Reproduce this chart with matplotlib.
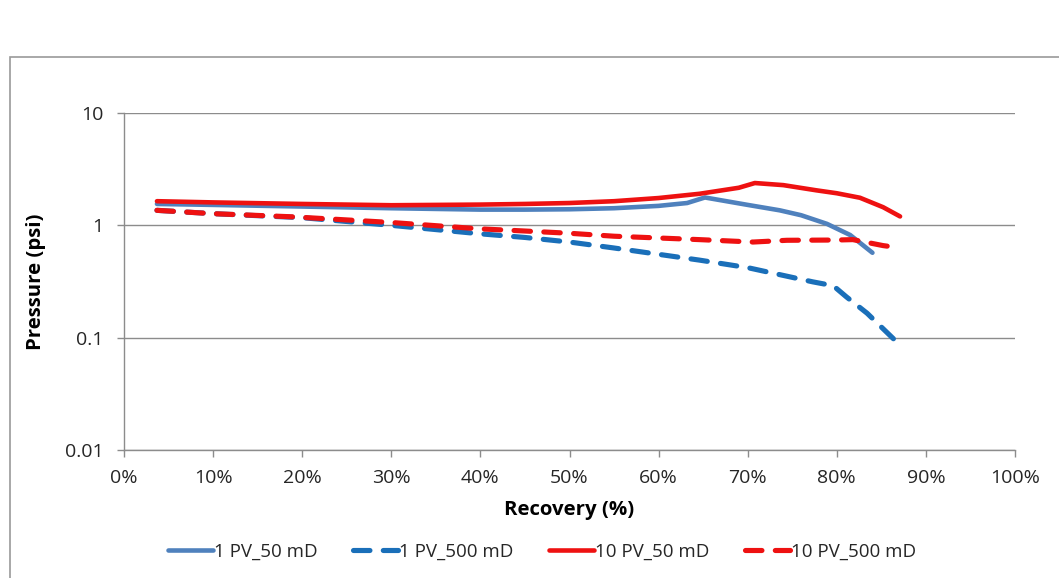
#!/usr/bin/env python3
"""Pressure vs. recovery for the four injection / permeability cases."""

import matplotlib
matplotlib.use("Agg")
import matplotlib.pyplot as plt
from matplotlib.patches import Rectangle
from matplotlib.ticker import FixedLocator, FuncFormatter, NullLocator

plt.rcParams["font.family"] = ["Open Sans", "DejaVu Sans"]

# Recovery fraction / pressure (psi) for each case
rec_1pv_50 = [0.037, 0.10, 0.20, 0.30, 0.40, 0.45, 0.50, 0.55, 0.60, 0.632, 0.652,
              0.70, 0.736, 0.76, 0.789, 0.815, 0.84]
p_1pv_50 = [1.55, 1.52, 1.47, 1.42, 1.38, 1.38, 1.39, 1.42, 1.49, 1.58, 1.77,
            1.52, 1.36, 1.23, 1.03, 0.82, 0.57]

rec_1pv_500 = [0.037, 0.10, 0.20, 0.30, 0.40, 0.45, 0.50, 0.549, 0.646, 0.70,
               0.773, 0.796, 0.811, 0.834, 0.867]
p_1pv_500 = [1.36, 1.27, 1.17, 1.00, 0.84, 0.78, 0.71, 0.63, 0.49, 0.42,
             0.314, 0.29, 0.23, 0.165, 0.092]

rec_10pv_50 = [0.037, 0.10, 0.20, 0.30, 0.40, 0.45, 0.50, 0.55, 0.60, 0.646, 0.69,
               0.708, 0.74, 0.777, 0.80, 0.826, 0.852, 0.871]
p_10pv_50 = [1.64, 1.60, 1.55, 1.51, 1.53, 1.55, 1.58, 1.64, 1.75, 1.91, 2.16,
             2.38, 2.28, 2.05, 1.93, 1.76, 1.45, 1.2]

rec_10pv_500 = [0.037, 0.10, 0.19, 0.30, 0.40, 0.45, 0.50, 0.55, 0.646, 0.706,
                0.744, 0.80, 0.818, 0.852, 0.871]
p_10pv_500 = [1.36, 1.27, 1.19, 1.06, 0.93, 0.89, 0.85, 0.80, 0.746, 0.71,
              0.736, 0.74, 0.746, 0.66, 0.63]

x_ticks = [i / 10 for i in range(11)]
y_ticks = [0.01, 0.1, 1, 10]
y_tick_labels = ["0.01", "0.1", "1", "10"]

GRID = "#8c8c8c"
TEXT = "#262626"

fig = plt.figure(figsize=(10.59, 5.78), dpi=100)

# chart frame
fig.patches.append(Rectangle((10 / 1059, -0.2), 1.2, 1.2 - 57 / 578,
                             transform=fig.transFigure, fill=False,
                             edgecolor="#9a9a9a", linewidth=1.2))

ax = fig.add_axes([124 / 1059, 1 - 450 / 578, 891 / 1059, 337 / 578])

dash = (3.2, 2.6)
ax.plot(rec_1pv_50, p_1pv_50, color="#4F81BD", lw=3.3, label="1 PV_50 mD",
        solid_capstyle="round", zorder=3)
ax.plot(rec_1pv_500, p_1pv_500, color="#1A6FB9", lw=3.7, dashes=dash,
        dash_capstyle="round", label="1 PV_500 mD", zorder=3)
ax.plot(rec_10pv_50, p_10pv_50, color="#EE1111", lw=3.3, label="10 PV_50 mD",
        solid_capstyle="round", zorder=4)
ax.plot(rec_10pv_500, p_10pv_500, color="#EE1111", lw=3.7, dashes=dash,
        dash_capstyle="round", label="10 PV_500 mD", zorder=4)

ax.set_yscale("log")
ax.set_xlim(0, 1)
ax.set_ylim(0.01, 10)
ax.xaxis.set_major_locator(FixedLocator(x_ticks))
ax.xaxis.set_major_formatter(FuncFormatter(lambda v, _: f"{v * 100:.0f}%"))
ax.yaxis.set_major_locator(FixedLocator(y_ticks))
ax.yaxis.set_minor_locator(NullLocator())
ax.set_yticklabels(y_tick_labels)

ax.grid(axis="y", color=GRID, linewidth=1.0)
for side in ("top", "right"):
    ax.spines[side].set_visible(False)
for side in ("left", "bottom"):
    ax.spines[side].set_color(GRID)
    ax.spines[side].set_linewidth(1.0)
ax.tick_params(axis="both", colors=GRID, length=5, width=1.0,
               labelcolor=TEXT, labelsize=14)
ax.tick_params(axis="y", pad=10)
ax.tick_params(axis="x", pad=9)

ax.set_xlabel("Recovery (%)", fontsize=14.7, fontweight="bold", labelpad=9,
              color="black")
ax.set_ylabel("Pressure (psi)", fontsize=14.7, fontweight="bold", labelpad=13,
              color="black")

leg = fig.legend(loc="center", bbox_to_anchor=(0.512, 0.046), ncol=4,
                 frameon=False, fontsize=13.5, handlelength=2.4,
                 handletextpad=0.05, columnspacing=1.9)
for t in leg.get_texts():
    t.set_color(TEXT)

fig.savefig("out.png", dpi=100)
